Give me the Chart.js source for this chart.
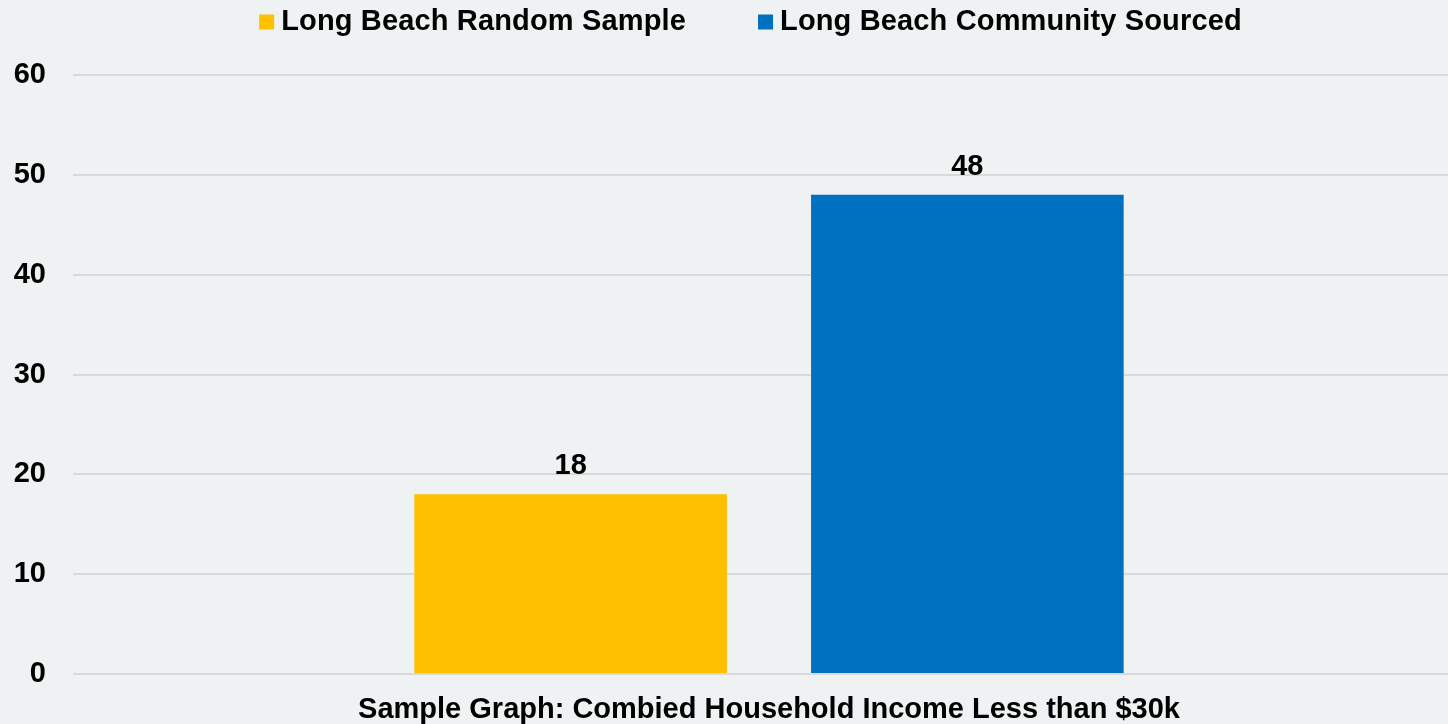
<!DOCTYPE html>
<html>
<head>
<meta charset="utf-8">
<script src="https://cdn.jsdelivr.net/npm/chart.js@4.4.1/dist/chart.umd.min.js"></script>
<style>
  html, body { margin: 0; padding: 0; background: #eef2f3; overflow: hidden; }
  #wrap { width: 1448px; height: 724px; overflow: hidden; }
</style>
</head>
<body>
<!-- plot area runs a bit past the right edge in the original, so the canvas is wider than the view -->
<div id="wrap"><canvas id="myChart" width="1465" height="724"></canvas></div>
<script>
  const categories = ['Sample Graph: Combied Household Income Less than $30k'];
  const randomSample = [18];
  const communitySourced = [48];
  const yTicks = [0, 10, 20, 30, 40, 50, 60];

  const FONT = '"Liberation Sans", Arial, sans-serif';

  // values above the bars
  const barValues = {
    id: 'barValues',
    afterDatasetsDraw(chart) {
      const ctx = chart.ctx;
      ctx.save();
      ctx.font = 'bold 29px ' + FONT;
      ctx.fillStyle = '#000';
      ctx.textAlign = 'center';
      ctx.textBaseline = 'middle';
      chart.data.datasets.forEach((ds, i) => {
        chart.getDatasetMeta(i).data.forEach((bar, j) => {
          ctx.fillText(ds.data[j], bar.x, bar.y - 28);
        });
      });
      ctx.restore();
    }
  };

  // legend drawn by hand so the spacing matches (small box-text gap, wide item gap)
  const topLegend = {
    id: 'topLegend',
    afterDraw(chart) {
      const ctx = chart.ctx;
      const box = 15, gapText = 7, gapItem = 72, y = 22;
      ctx.save();
      ctx.font = 'bold 29px ' + FONT;
      if ('letterSpacing' in ctx) ctx.letterSpacing = '0.15px';
      ctx.textBaseline = 'middle';
      ctx.textAlign = 'left';
      const items = chart.data.datasets.map(ds => ({
        text: ds.label, color: ds.backgroundColor, w: ctx.measureText(ds.label).width
      }));
      let total = items.reduce((s, it) => s + box + gapText + it.w, 0) + gapItem * (items.length - 1);
      let x = chart.width / 2 + 18 - total / 2;
      items.forEach(it => {
        ctx.fillStyle = it.color;
        ctx.fillRect(x, y - box / 2, box, box);
        ctx.fillStyle = '#000';
        ctx.fillText(it.text, x + box + gapText, y);
        x += box + gapText + it.w + gapItem;
      });
      ctx.restore();
    }
  };

  var ctx = document.getElementById('myChart').getContext('2d');
  var chart = new Chart(ctx, {
    type: 'bar',
    data: {
      labels: categories,
      datasets: [
        {
          label: 'Long Beach Random Sample',
          backgroundColor: '#ffc000',
          data: randomSample
        },
        {
          label: 'Long Beach Community Sourced',
          backgroundColor: '#0070c0',
          data: communitySourced
        }
      ]
    },
    options: {
      responsive: false,
      animation: false,
      categoryPercentage: 0.570,
      barPercentage: 0.788,
      layout: { padding: { left: 0, right: 0, top: 75, bottom: 0 } },
      plugins: {
        legend: { display: false },
        tooltip: { enabled: false }
      },
      scales: {
        x: {
          afterFit(axis) { axis.height = 50; },
          grid: { display: false, drawTicks: false },
          border: { display: false },
          ticks: { padding: 21, font: { family: FONT, size: 29, weight: 'bold', lineHeight: 1 }, color: '#000' }
        },
        y: {
          min: 0,
          max: 60,
          afterFit(axis) { axis.width = 73; },
          afterBuildTicks(axis) { axis.ticks = yTicks.map(v => ({ value: v })); },
          grid: { color: '#d9d9d9', lineWidth: 2, drawTicks: false },
          border: { display: false },
          ticks: { padding: 27, font: { family: FONT, size: 29, weight: 'bold' }, color: '#000' }
        }
      }
    },
    plugins: [barValues, topLegend]
  });
</script>
</body>
</html>
